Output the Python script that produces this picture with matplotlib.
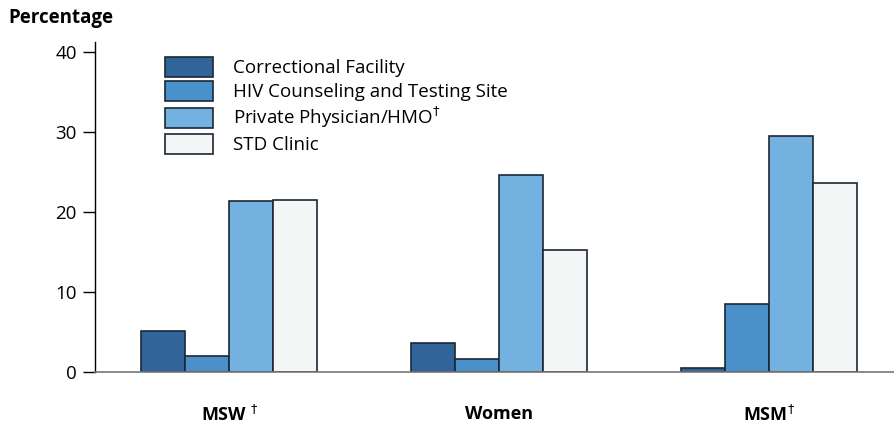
import numpy as np
import matplotlib.pyplot as plt
from matplotlib.patches import Patch

plt.rcParams['font.family'] = ['Open Sans', 'DejaVu Sans']

groups = ['MSW $^{\\dagger}$', 'Women', 'MSM$^{\\dagger}$']
sites = ['Correctional Facility', 'HIV Counseling and Testing Site',
         'Private Physician/HMO$^{\\dagger}$', 'STD Clinic']
correctional = [5.1, 3.6, 0.5]
hiv_cts = [2.0, 1.6, 8.5]
private_hmo = [21.4, 24.6, 29.5]
std_clinic = [21.5, 15.3, 23.6]
yticks = [0, 10, 20, 30, 40]

colors = ['#31659a', '#4a91cb', '#73b1e0', '#f4f6f5']
edge = '#1c2733'

fig = plt.figure(figsize=(8.95, 4.26), dpi=100)
ax = fig.add_axes([95 / 895, 54 / 426, 800 / 895, 330 / 426])

x = np.arange(len(groups))
w = 0.163
series = [correctional, hiv_cts, private_hmo, std_clinic]
for i, (vals, c) in enumerate(zip(series, colors)):
    ax.bar(x + (i - 1.5) * w, vals, w, color=c, edgecolor=edge, linewidth=1.2, zorder=2)

ax.set_xlim(-0.498, 2.465)
ax.set_ylim(0, 41.25)
ax.set_yticks(yticks)
ax.tick_params(axis='y', direction='out', length=9, width=1, labelsize=13.5, pad=4)
ax.set_xticks(x)
ax.set_xticklabels(groups, fontsize=13, fontweight='bold')
ax.tick_params(axis='x', length=0, pad=24)
for s in ['top', 'right']:
    ax.spines[s].set_visible(False)
ax.spines['left'].set_linewidth(1)
ax.spines['bottom'].set_color('#777777')
ax.spines['bottom'].set_linewidth(1.2)

fig.text(8 / 895, 1 - 18 / 426, 'Percentage', fontsize=13.5, fontweight='bold', va='center')

handles = [Patch(facecolor=c, edgecolor=edge, linewidth=1.2) for c in colors]
ax.legend(handles, sites, loc='upper left', bbox_to_anchor=(165 / 895, 1 - 57 / 426),
          bbox_transform=fig.transFigure, frameon=False, fontsize=13.5,
          handlelength=2.56, handleheight=1.25, handletextpad=1.05,
          labelspacing=0.2, borderpad=0, borderaxespad=0)

fig.savefig('out.png', dpi=100)
